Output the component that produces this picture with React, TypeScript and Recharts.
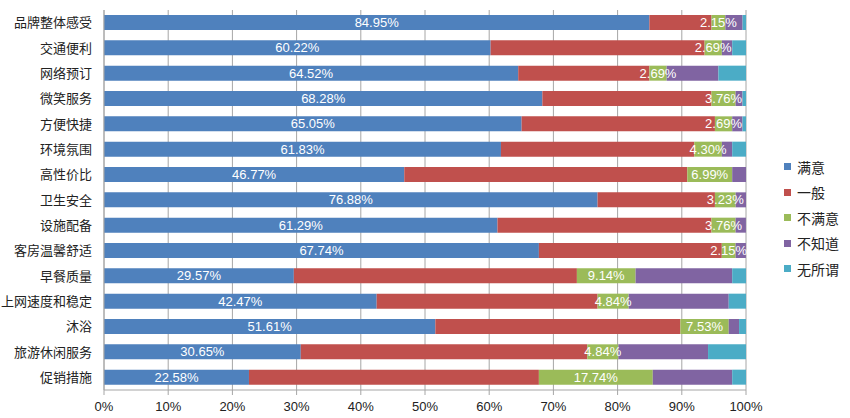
import { BarChart, Bar, XAxis, YAxis, CartesianGrid, LabelList } from "recharts";

// 各项满意度（%）
const categories = [
  "品牌整体感受", "交通便利", "网络预订", "微笑服务", "方便快捷",
  "环境氛围", "高性价比", "卫生安全", "设施配备", "客房温馨舒适",
  "早餐质量", "上网速度和稳定", "沐浴", "旅游休闲服务", "促销措施",
];
const satisfied = [84.95, 60.22, 64.52, 68.28, 65.05, 61.83, 46.77, 76.88, 61.29, 67.74, 29.57, 42.47, 51.61, 30.65, 22.58];
const average = [9.68, 33.33, 20.43, 26.34, 30.11, 30.11, 44.09, 18.28, 33.33, 28.49, 44.09, 34.41, 38.17, 44.62, 45.16];
const dissatisfied = [2.15, 2.69, 2.69, 3.76, 2.69, 4.30, 6.99, 3.23, 3.76, 2.15, 9.14, 4.84, 7.53, 4.84, 17.74];
const unknown = [2.69, 1.61, 8.06, 1.08, 1.61, 1.61, 2.15, 1.61, 1.61, 1.61, 15.05, 15.59, 1.61, 13.98, 12.37];
const indifferent = [0.54, 2.15, 4.30, 0.54, 0.54, 2.15, 0, 0, 0, 0, 2.15, 2.69, 1.08, 5.91, 2.15];
const xTicks = [0, 10, 20, 30, 40, 50, 60, 70, 80, 90, 100];

const series = [
  { key: "satisfied", name: "满意", color: "#4F81BD", label: true },
  { key: "average", name: "一般", color: "#C0504D", label: false },
  { key: "dissatisfied", name: "不满意", color: "#9BBB59", label: true },
  { key: "unknown", name: "不知道", color: "#8064A2", label: false },
  { key: "indifferent", name: "无所谓", color: "#4BACC6", label: false },
];

const data = categories.map((name, i) => ({
  name,
  satisfied: satisfied[i],
  average: average[i],
  dissatisfied: dissatisfied[i],
  unknown: unknown[i],
  indifferent: indifferent[i],
}));

const cjk = '"Noto Sans CJK SC", "Noto Sans", sans-serif';
const latin = '"Liberation Sans", Arial, sans-serif';

export default function App() {
  return (
    <div style={{ position: "absolute", left: 0, top: 0, width: 850, height: 418, background: "#fff" }}>
      <BarChart
        width={850}
        height={418}
        data={data}
        layout="vertical"
        margin={{ top: 10, right: 104, bottom: 0, left: 0 }}
        barSize={15}
      >
        <CartesianGrid horizontal={false} stroke="#a6a6a6" />
        <XAxis
          type="number"
          domain={[0, 100]}
          ticks={xTicks}
          allowDataOverflow
          height={28}
          tickFormatter={(v) => `${v}%`}
          tick={{ fill: "#222", fontSize: 13, fontFamily: latin }}
          stroke="#a6a6a6"
          tickSize={5}
          tickMargin={7}
          interval={0}
        />
        <YAxis
          type="category"
          dataKey="name"
          width={104}
          tick={{ fill: "#222", fontSize: 13, fontFamily: cjk }}
          stroke="#a6a6a6"
          tickLine={false}
          tickSize={0}
          tickMargin={12}
          interval={0}
        />
        {series.map((s) => (
          <Bar key={s.key} dataKey={s.key} name={s.name} stackId="a" fill={s.color} isAnimationActive={false}>
            {s.label && (
              <LabelList
                dataKey={s.key}
                position="center"
                formatter={(v: number) => `${v.toFixed(2)}%`}
                fill="#fff"
                style={{ fontSize: 13, fontFamily: latin }}
              />
            )}
          </Bar>
        ))}
      </BarChart>
      <div style={{ position: "absolute", left: 784, top: 154 }}>
        {series.map((s) => (
          <div key={s.key} style={{ display: "flex", alignItems: "center", height: 25.5, fontFamily: cjk, fontSize: 14, color: "#222" }}>
            <span style={{ width: 7, height: 7, background: s.color, marginRight: 6, display: "inline-block" }} />
            {s.name}
          </div>
        ))}
      </div>
    </div>
  );
}
